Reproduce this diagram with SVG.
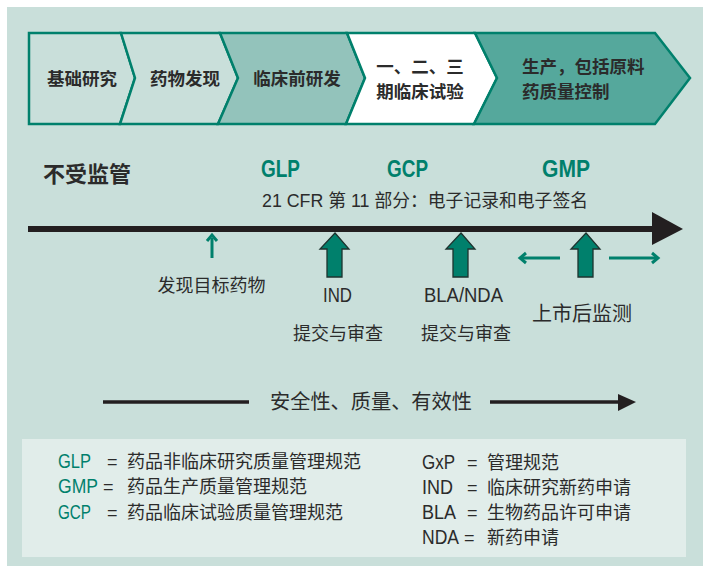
<svg xmlns="http://www.w3.org/2000/svg" width="703" height="566" viewBox="0 0 703 566">
<style>
.t{font-family:"Liberation Sans","Noto Sans CJK SC",sans-serif;fill:#2b2b2b}
.b{font-weight:bold}
.g{fill:#00806C}
.chev{stroke:#00806C;stroke-width:2.5;stroke-linejoin:miter}
.big{fill:#00806C;stroke:#1d332f;stroke-width:1.3}
.thin{stroke:#00806C;stroke-width:3;fill:none}
</style>
<rect x="0" y="0" width="703" height="566" fill="#ffffff"/>
<rect x="7" y="7" width="696" height="559" fill="#C9DFDA"/>

<g id="chevron-basic">
<polygon class="chev" fill="#C9DFDA" points="29,33 121,33 135,78 120,124 29,124"/>
<text class="t b" x="82" y="85" font-size="17.5" text-anchor="middle">基础研究</text>
</g>
<g id="chevron-discovery">
<polygon class="chev" fill="#C9DFDA" points="121,33 220,33 238,78 218,124 120,124 135,78"/>
<text class="t b" x="185" y="85" font-size="17.5" text-anchor="middle">药物发现</text>
</g>
<g id="chevron-preclinical">
<polygon class="chev" fill="#93C3BB" points="220,33 347,33 365,78 346,124 218,124 238,78"/>
<text class="t b" x="297" y="85" font-size="17.5" text-anchor="middle">临床前研发</text>
</g>
<g id="chevron-clinical">
<polygon class="chev" fill="#ffffff" points="347,33 475,33 497,78 474,124 346,124 365,78"/>
<text class="t b" x="420" y="73" font-size="17.5" text-anchor="middle">一、二、三</text>
<text class="t b" x="420" y="98" font-size="17.5" text-anchor="middle">期临床试验</text>
</g>
<g id="chevron-manufacturing">
<polygon class="chev" fill="#55A89C" points="475,33 655,33 690,78 655,124 474,124 497,78"/>
<text class="t b" x="522" y="73" font-size="17.5">生产，包括原料</text>
<text class="t b" x="522" y="98" font-size="17.5">药质量控制</text>
</g>

<g id="labels-top">
<text class="t b" x="43" y="182" font-size="22">不受监管</text>
<text class="t b g" x="261" y="177" font-size="24" textLength="39" lengthAdjust="spacingAndGlyphs">GLP</text>
<text class="t b g" x="387" y="177" font-size="24" textLength="41" lengthAdjust="spacingAndGlyphs">GCP</text>
<text class="t b g" x="542" y="177" font-size="24" textLength="48" lengthAdjust="spacingAndGlyphs">GMP</text>
<text class="t" x="262" y="207" font-size="18.5" textLength="326" lengthAdjust="spacingAndGlyphs">21 CFR 第 11 部分：电子记录和电子签名</text>
</g>

<g id="connectors">
<line x1="28" y1="229" x2="654" y2="229" stroke="#231F20" stroke-width="6"/>
<polygon points="652,212 683,229 652,245" fill="#231F20"/>
<line class="thin" x1="212" y1="238" x2="212" y2="258"/>
<polyline class="thin" points="207,241 212,235 217,241"/>
<line class="thin" x1="522" y1="258" x2="560" y2="258"/>
<polyline class="thin" points="526,253 520,258 526,263"/>
<line class="thin" x1="609" y1="258" x2="657" y2="258"/>
<polyline class="thin" points="652,253 658,258 652,263"/>
<line x1="103" y1="402" x2="249" y2="402" stroke="#231F20" stroke-width="3.5"/>
<line x1="490" y1="402" x2="620" y2="402" stroke="#231F20" stroke-width="3.5"/>
<polygon points="618,394 636,402 618,411" fill="#231F20"/>
</g>

<g id="discovery-target">
<text class="t" x="211.5" y="292" font-size="18" text-anchor="middle">发现目标药物</text>
</g>
<g id="ind">
<polygon class="big" points="335,233 349,249 342,249 342,277 327,277 327,249 320,249"/>
<text class="t" x="323" y="302" font-size="20" textLength="29" lengthAdjust="spacingAndGlyphs">IND</text>
<text class="t" x="338" y="340" font-size="18" text-anchor="middle">提交与审查</text>
</g>
<g id="bla-nda">
<polygon class="big" points="461,233 475,249 468,249 468,277 453,277 453,249 446,249"/>
<text class="t" x="424" y="302" font-size="20" textLength="79" lengthAdjust="spacingAndGlyphs">BLA/NDA</text>
<text class="t" x="466" y="340" font-size="18" text-anchor="middle">提交与审查</text>
</g>
<g id="post-market">
<polygon class="big" points="586,233 600,249 593,249 593,277 578,277 578,249 571,249"/>
<text class="t" x="582" y="321" font-size="20" text-anchor="middle">上市后监测</text>
</g>

<g id="quality">
<text class="t" x="371" y="409" font-size="20.2" text-anchor="middle">安全性、质量、有效性</text>
</g>

<g id="legend">
<rect x="22" y="439" width="664" height="118" fill="#E1EDEA"/>
<text class="t g" x="58" y="468" font-size="20" textLength="33" lengthAdjust="spacingAndGlyphs">GLP</text>
<text class="t" x="107" y="468" font-size="18">=</text>
<text class="t" x="127" y="468" font-size="18">药品非临床研究质量管理规范</text>
<text class="t g" x="58" y="493" font-size="20" textLength="40" lengthAdjust="spacingAndGlyphs">GMP</text>
<text class="t" x="103" y="493" font-size="18">=</text>
<text class="t" x="127" y="493" font-size="18">药品生产质量管理规范</text>
<text class="t g" x="58" y="519" font-size="20" textLength="33" lengthAdjust="spacingAndGlyphs">GCP</text>
<text class="t" x="107" y="519" font-size="18">=</text>
<text class="t" x="127" y="519" font-size="18">药品临床试验质量管理规范</text>

<text class="t" x="422" y="469" font-size="20" textLength="33" lengthAdjust="spacingAndGlyphs">GxP</text>
<text class="t" x="467" y="469" font-size="18">=</text>
<text class="t" x="487" y="469" font-size="18">管理规范</text>
<text class="t" x="422" y="494" font-size="20" textLength="31" lengthAdjust="spacingAndGlyphs">IND</text>
<text class="t" x="467" y="494" font-size="18">=</text>
<text class="t" x="487" y="494" font-size="18">临床研究新药申请</text>
<text class="t" x="422" y="519" font-size="20" textLength="34" lengthAdjust="spacingAndGlyphs">BLA</text>
<text class="t" x="467" y="519" font-size="18">=</text>
<text class="t" x="487" y="519" font-size="18">生物药品许可申请</text>
<text class="t" x="422" y="544" font-size="20" textLength="37" lengthAdjust="spacingAndGlyphs">NDA</text>
<text class="t" x="464" y="544" font-size="18">=</text>
<text class="t" x="487" y="544" font-size="18">新药申请</text>
</g>
</svg>
